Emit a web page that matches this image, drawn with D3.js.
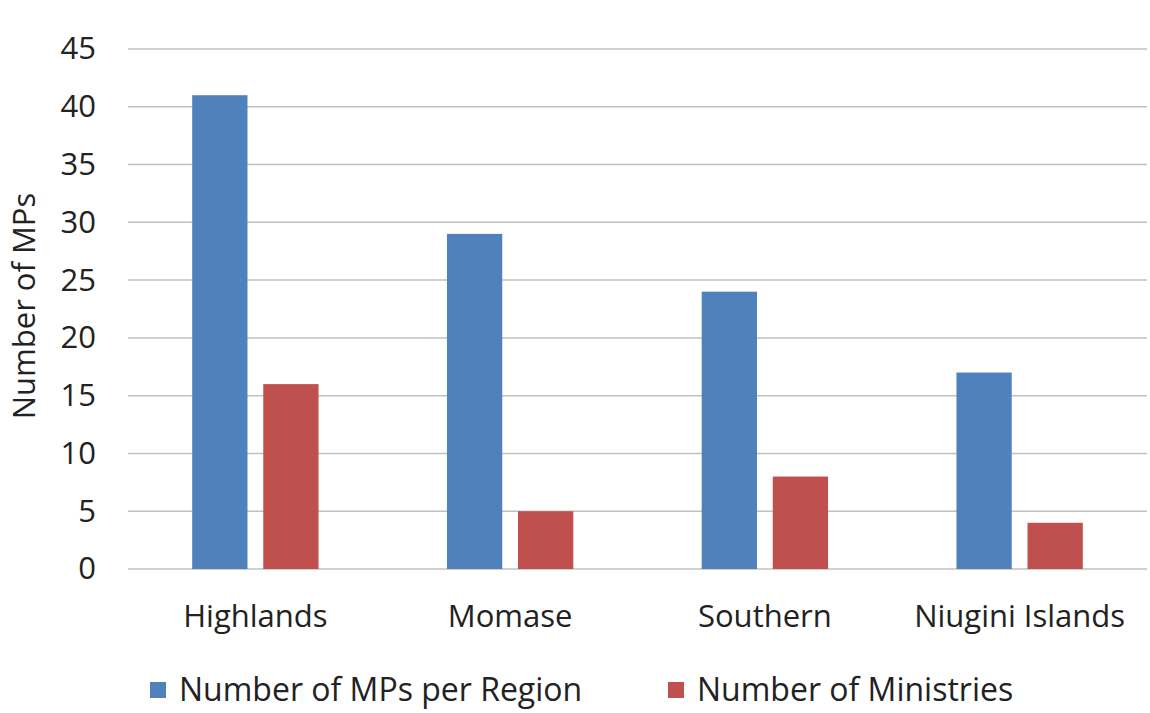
<!DOCTYPE html>
<html>
<head>
<meta charset="utf-8">
<script src="https://cdn.jsdelivr.net/npm/d3@7"></script>
<style>
  html, body { margin: 0; padding: 0; background: #fff; }
  svg text { font-family: "Open Sans", "Noto Sans", sans-serif; fill: #222; }
</style>
</head>
<body>
<svg id="chart" width="1150" height="713"></svg>
<script>
const categories = ["Highlands", "Momase", "Southern", "Niugini Islands"];
const seriesNames = ["Number of MPs per Region", "Number of Ministries"];
const mpsPerRegion = [41, 29, 24, 17];
const ministries = [16, 5, 8, 4];
const yTicks = [0, 5, 10, 15, 20, 25, 30, 35, 40, 45];
const colors = ["#4F81BD", "#C0504D"];

const series = [mpsPerRegion, ministries];
const svg = d3.select("#chart");
const FS = "31px";

const plot = { left: 128, right: 1147, top: 49, bottom: 569 };

const x0 = d3.scaleBand().domain(categories).range([plot.left, plot.right]).padding(0);
const groupPad = x0.bandwidth() * 0.252;
const x1 = d3.scaleBand().domain(seriesNames)
  .range([groupPad, x0.bandwidth() - groupPad]).paddingInner(0.222).paddingOuter(0);
const y = d3.scaleLinear().domain([0, 45]).range([plot.bottom, plot.top]);

// gridlines
svg.append("g")
  .selectAll("line")
  .data(yTicks)
  .join("line")
  .attr("x1", plot.left).attr("x2", plot.right)
  .attr("y1", d => y(d)).attr("y2", d => y(d))
  .attr("stroke", "#C0C0C0").attr("stroke-width", 1.5);

// y axis labels
const yAxis = d3.axisLeft(y).tickValues(yTicks).tickSize(0).tickPadding(0);
const yg = svg.append("g").attr("transform", `translate(${plot.left - 32},0)`).call(yAxis);
yg.select(".domain").remove();
yg.selectAll("text").style("font-size", FS).attr("fill", "#222")
  .style("font-family", '"Open Sans", sans-serif');

// bars
const groups = svg.append("g").selectAll("g")
  .data(categories)
  .join("g")
  .attr("transform", d => `translate(${x0(d)},0)`);

groups.selectAll("rect")
  .data((d, i) => seriesNames.map((s, j) => ({ s, v: series[j][i], j })))
  .join("rect")
  .attr("x", d => x1(d.s))
  .attr("width", x1.bandwidth())
  .attr("y", d => y(d.v))
  .attr("height", d => y(0) - y(d.v))
  .attr("fill", d => colors[d.j]);

// x axis labels
const xAxis = d3.axisBottom(x0).tickSize(0).tickPadding(0);
const xg = svg.append("g").attr("transform", `translate(0,${plot.bottom + 36})`).call(xAxis);
xg.select(".domain").remove();
xg.selectAll("text").style("font-size", FS).attr("fill", "#222")
  .style("font-family", '"Open Sans", sans-serif');

// y title
svg.append("text")
  .attr("transform", `translate(35,306) rotate(-90)`)
  .attr("text-anchor", "middle")
  .style("font-size", FS)
  .text("Number of MPs");

// legend
const legendItems = [
  { name: seriesNames[0], color: colors[0], x: 150 },
  { name: seriesNames[1], color: colors[1], x: 668 }
];
const lg = svg.append("g").selectAll("g").data(legendItems).join("g")
  .attr("transform", d => `translate(${d.x},682)`);
lg.append("rect").attr("width", 16).attr("height", 16).attr("fill", d => d.color);
lg.append("text").attr("x", 29).attr("y", 8).attr("dy", "0.35em")
  .style("font-size", "32px").text(d => d.name);
</script>
</body>
</html>
